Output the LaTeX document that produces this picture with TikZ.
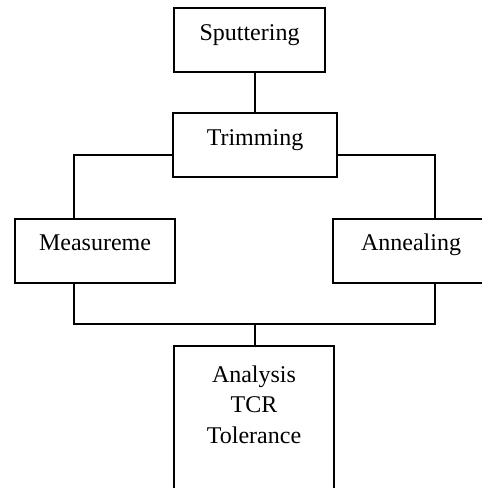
\documentclass[tikz,border=0pt]{standalone}
\usepackage{fontspec}
\setmainfont{Liberation Serif}
\begin{document}
\begin{tikzpicture}[x=0.5pt,y=-0.5pt,
  box/.style={draw, line width=1pt, inner sep=0pt, text height=16pt, text depth=16pt, minimum height=32pt},
  conn/.style={line width=1pt},
  font=\fontsize{12}{15.25}\selectfont]
\useasboundingbox[fill=white] (0,0) rectangle (482,488);
\node[box, minimum width=75.5pt] (sput) at (249.5,40) {Sputtering};
\node[box, minimum width=82pt] (trim) at (255,145) {Trimming};
\node[box, minimum width=80pt] (meas) at (95,250.5) {Measureme};
\node[box, minimum width=78pt] (ann) at (411,250.5) {Annealing};
\node[draw, line width=1pt, inner sep=0pt, minimum width=80pt, minimum height=85pt, anchor=north] (ana) at (254,345) {};
\node[align=center, inner sep=0pt, anchor=north] (anatext) at (254,365) {Analysis\\TCR\\Tolerance};
\coordinate (jl) at (74,155);
\coordinate (jr) at (435,155);
\coordinate (jb) at (255,324);
\draw[conn] (trim.north) -- (trim.north |- sput.south);
\draw[conn] (trim.west |- jl) -| (meas.north -| jl);
\draw[conn] (trim.east |- jr) -| (ann.north -| jr);
\draw[conn] (meas.south -| jl) |- (jb) -| (ann.south -| jr);
\draw[conn] (jb) -- (ana.north -| jb);
\end{tikzpicture}
\end{document}
